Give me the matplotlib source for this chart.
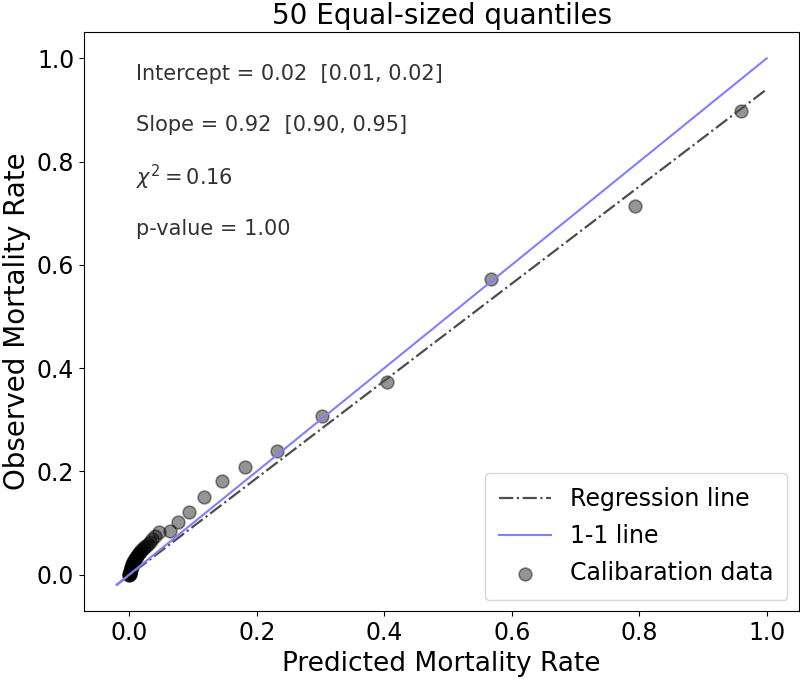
import matplotlib
matplotlib.use('Agg')
import matplotlib.pyplot as plt

# Calibration data (50 equal-sized quantiles)
pred = [0.959, 0.793, 0.567, 0.405, 0.302, 0.231, 0.181, 0.145, 0.117, 0.093,
        0.077, 0.064, 0.046,
        0.040, 0.036, 0.032, 0.029, 0.026, 0.023, 0.021, 0.019, 0.017, 0.015,
        0.013, 0.012, 0.011, 0.010, 0.009, 0.008, 0.007, 0.006, 0.0055, 0.005,
        0.0045, 0.004, 0.0035, 0.003, 0.0027, 0.0024, 0.0021, 0.0018, 0.0015,
        0.0013, 0.0011, 0.0009, 0.0007, 0.0005, 0.0003, 0.0002, 0.0001]
obs = [0.897, 0.713, 0.573, 0.373, 0.307, 0.239, 0.209, 0.181, 0.151, 0.122,
       0.102, 0.084, 0.083,
       0.075, 0.070, 0.064, 0.060, 0.056, 0.053, 0.050, 0.047, 0.044, 0.042,
       0.040, 0.037, 0.035, 0.032, 0.030, 0.028, 0.026, 0.024, 0.022, 0.020,
       0.018, 0.016, 0.014, 0.013, 0.011, 0.010, 0.009, 0.007, 0.006,
       0.005, 0.004, 0.003, 0.002, 0.002, 0.001, 0.000, 0.000]

# line end points
line_x = [-0.02, 1.0]
reg_y = [-0.02, 0.94]
one_y = [-0.02, 1.0]

stats = ['Intercept = 0.02  [0.01, 0.02]',
         'Slope = 0.92  [0.90, 0.95]',
         r'$\chi^2 = 0.16$',
         'p-value = 1.00']
stats_y = [0.97, 0.87, 0.77, 0.67]

fig = plt.figure(figsize=(8, 6.8), dpi=100)
ax = fig.add_axes([0.105, 0.101, 0.894, 0.852])

ax.plot(line_x, reg_y, '-.', color='0.3', linewidth=1.6, label='Regression line')
ax.plot(line_x, one_y, '-', color='#8080ff', linewidth=1.5, label='1-1 line')
ax.scatter(pred, obs, s=85, color='k', alpha=0.42, linewidths=1.2,
           label='Calibaration data')

for t, yy in zip(stats, stats_y):
    ax.text(0.01, yy, t, fontsize=15, va='center', color='0.2')

ax.set_title('50 Equal-sized quantiles', fontsize=20)
ax.set_xlabel('Predicted Mortality Rate', fontsize=19)
ax.set_ylabel('Observed Mortality Rate', fontsize=20)
ax.tick_params(labelsize=17)
ax.legend(loc='lower right', fontsize=17, handlelength=2.2, labelspacing=0.55,
          borderpad=0.6)

fig.savefig('out.png', dpi=100)
